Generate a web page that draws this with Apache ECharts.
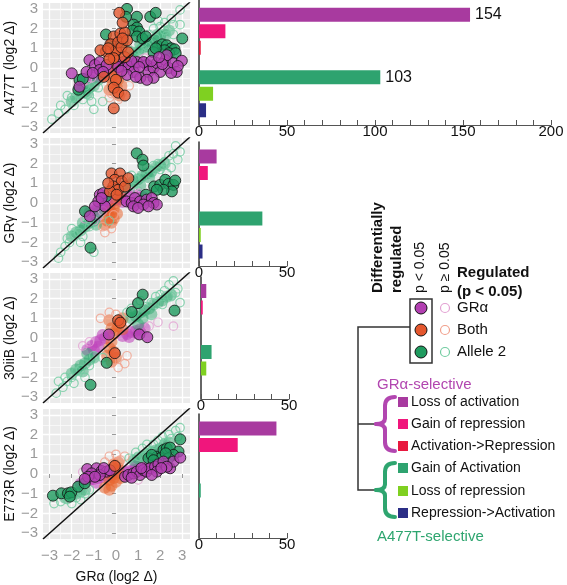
<!DOCTYPE html>
<html lang="en">
<head>
    <meta charset="UTF-8">
    <title>GR allele comparison</title>
    <script src="https://cdn.jsdelivr.net/npm/echarts@6/dist/echarts.min.js"></script>
    <style>
        html, body { margin: 0; padding: 0; background: #fff; }
        #main { width: 567px; height: 585px; }
    </style>
</head>
<body>
<div id="main"></div>
<script>
    // ---- scatter data, [GRα log2 change, allele log2 change] ----
    // A477T
    var a477tCloudGRa = [[-1.2,-0.4],[-1,-0.3],[-0.8,-0.25],[-0.6,-0.2],[-0.4,-0.1],[-0.2,-0.05],[0,0],[0.2,0.05],[0.4,0.1],[0.6,0.15],[0.8,0.2],[1,0.25],[1.2,0.3],[-0.9,-0.45],[-0.5,-0.35],[0.5,0.25],[0.9,0.1],[-1.4,-0.6],[-0.3,0.05],[0.3,0.2],[1.4,0.2],[-0.7,-0.4]];
    var a477tCloudBoth = [[0,-0.2],[-0.1,-0.4],[0.1,-0.6],[-0.15,-0.8],[0.05,-1],[-0.05,-1.2],[0.15,-1.4],[0.1,0.2],[0,0.4],[-0.1,0.6],[0.05,0.8],[0.2,-0.3],[-0.25,-0.5],[0.25,-0.9],[0.15,1],[-0.3,-1.1],[-0.2,0.3]];
    var a477tCloudAllele2 = [[-2,-1.7],[-1.8,-1.5],[-1.6,-1.3],[-1.4,-1.2],[-1.2,-1],[-1,-0.9],[-0.8,-0.6],[-1.5,-1],[-1.3,-1.3],[0.8,0.6],[1,0.8],[1.2,1],[1.4,1.1],[1.6,1.3],[1.8,1.4],[2,1.6],[2.2,1.7],[1.5,1.4],[1.9,1.7],[0.7,0.8],[2.4,1.9],[1.1,1.2]];
    var a477tOpenGRa = [[-1.5,-0.7],[-1.3,-0.6],[-1.6,-0.9],[-1.1,-0.5],[1.3,0.5],[1.1,0.4],[-1.7,-0.8],[0.9,0.35]];
    var a477tOpenBoth = [[-0.2,-1.3],[0.1,-1.6],[0.3,-1.2],[-0.3,-1.5],[0.5,1.1],[0,1.3],[-0.4,0.3],[0.6,-0.9]];
    var a477tOpenAllele2 = [[-2.9,-2.6],[-2.3,-2.1],[-2.6,-2.3],[-2,-1.5],[-1.9,-1.9],[-1.5,-1.6],[-1.2,-1.4],[-1,-2.1],[-2.2,-1.4],[-1.7,-1.3],[-0.6,-1.7],[-1.4,-0.9],[-2.5,-1.9],[-1.1,-1.7],[2.9,2.95],[2.5,2.5],[2.2,2.3],[2,2.1],[1.7,2],[1.5,1.7],[2.2,1.9],[2.6,2.2],[1.2,1.3],[1,0.9],[1.4,1.1],[2.3,1.65],[1.8,1.5],[2.6,1.7],[0.6,0.9],[2.9,2.2],[1.9,2.4],[-0.8,-1]];
    var a477tSigGRa = [[-2,-0.27],[-1.65,-0.95],[-1.2,0.4],[-0.95,0.15],[-0.73,0.3],[-0.73,-0.1],[-1.33,-0.2],[-0.42,0.15],[-0.58,-0.2],[0.33,0.3],[0.56,0.07],[0.8,-0.2],[0.95,0.3],[1.1,-0.5],[1.4,0.15],[1.47,-0.2],[1.7,0],[1.85,0.25],[2,-0.2],[2.23,0.4],[2.38,0],[2.6,0.25],[2.98,0.37],[2.75,-0.2],[1.7,-0.5],[1.4,-0.6],[0.5,-0.35],[1.25,0.3],[2.3,0.65],[0.1,0.05],[0.7,0.35],[1.05,0.05],[1.6,0.35],[2.1,0.2],[2.5,-0.25],[0.25,-0.15],[-1.05,-0.25],[1.95,0.55],[0.9,-0.45],[2.8,0.1]];
    var a477tSigBoth = [[0.15,2.8],[-0.1,1.6],[0.2,1.75],[0.4,1.8],[-0.25,1.2],[0,0.9],[0.1,1.3],[0.25,1.05],[-0.45,0.85],[-0.7,0.9],[0.5,1.4],[0.4,0.55],[-0.1,0.5],[0.55,0.8],[0,-0.6],[-0.1,-1],[0.1,-1.25],[0.4,-1.4],[-0.1,-2.05],[-0.55,-0.45],[0.3,2.3],[-0.3,0.45],[-0.35,1.0],[0.3,1.5]];
    var a477tSigAllele2 = [[0.5,3],[0.45,2.6],[0.95,2.6],[1.55,2.6],[1.8,2.8],[0.8,2.2],[0.95,2.05],[0.75,1.9],[1.05,1.85],[-0.45,1.7],[0.95,1.6],[1.2,1.5],[1.35,1.6],[1.9,1.1],[2.1,1.2],[2.3,1.15],[2.5,1],[2.65,0.95],[2.2,0.9],[2.4,0.75],[2.7,0.75],[3,1.5],[1.7,0.8],[1.8,1],[-1.7,-1.1],[-1.65,-0.6],[-1.5,-0.55],[0.3,1.3],[-0.2,1.2]];

    // GRγ
    var grgCloudGRa = [[-1.2,-0.5],[-1,-0.4],[-0.8,-0.2],[-0.6,-0.05],[-0.4,0.05],[-0.2,0.1],[0,0.15],[0.2,0.2],[0.4,0.25],[0.6,0.3],[0.8,0.35],[1,0.4],[-0.5,-0.3],[0.3,0.05],[0.7,0.1],[-0.9,-0.7],[1.2,0.3],[-0.3,-0.2]];
    var grgCloudBoth = [[-0.1,-0.3],[-0.2,-0.5],[-0.3,-0.7],[-0.4,-0.9],[-0.2,-1],[-0.5,-1.1],[0,0],[0.1,0.3],[0.2,0.5],[-0.1,-0.8],[-0.35,-0.4],[0.05,-0.55]];
    var grgCloudAllele2 = [[-2,-1.7],[-1.8,-1.5],[-1.6,-1.4],[-1.4,-1.2],[-1.2,-1],[-1,-0.9],[-0.9,-1.1],[-1.5,-1],[0.6,0.9],[0.8,1.1],[1,1.2],[1.2,1.4],[1.4,1.5],[1.6,1.6],[1.8,1.8],[2,1.9],[2.2,2],[0.4,0.8],[1.5,1.3],[1.1,0.9],[-0.8,-0.5]];
    var grgOpenGRa = [[-1.3,-0.6],[-1,-0.9],[-0.6,-0.4],[-1.4,-0.8],[1.1,0.5],[0.7,0.55]];
    var grgOpenBoth = [[-0.5,-1.5],[-0.2,-1.3],[-0.1,-0.6],[-0.6,-1.2],[0.2,0.9]];
    var grgOpenAllele2 = [[-2.6,-2.8],[-2.5,-2.5],[-2.3,-2.2],[-2.1,-2],[-1.9,-1.6],[-1.7,-1.5],[-2,-1.3],[-1.5,-1.7],[-1,-2.5],[-1.6,-2],[-1.2,-1.2],[2.7,2.9],[2.6,2.5],[2.8,2.2],[2.4,2.4],[2.2,2.1],[1.9,2],[2,1.7],[1.6,1.5],[1.4,1.8],[1.2,1.3],[0.9,1.2],[0.7,1.4],[2.9,2.6],[2.5,1.8],[1,0.6],[-0.3,-0.9],[-1.2,-0.9],[2.3,1.5],[1.7,1.9],[-2.2,-1.8]];
    var grgSigGRa = [[-0.73,0.42],[-0.58,0.5],[-0.8,0.08],[-0.5,-0.17],[-0.95,-0.17],[-1.18,-0.67],[0.48,0.08],[0.71,0],[0.86,0.25],[1.09,0.08],[1.39,0.17],[1.62,0.25],[1.7,0],[0.79,-0.17],[1.24,-0.08],[1.85,-0.08],[1,-0.25],[1.47,-0.17],[-0.65,0.25]];
    var grgSigBoth = [[-0.2,1.5],[0.18,1.5],[-0.05,1.18],[0.26,1.1],[-0.12,0.84],[0.1,0.67],[0.41,0.84],[-0.27,0.59],[0.56,1.26],[0.03,0.42],[-0.35,1]];
    var grgSigAllele2 = [[0.94,2.52],[1.2,2.2],[1.24,1.9],[-1.4,-0.42],[-1.15,-2.27],[1.73,0.84],[2,0.92],[2.23,1.18],[2.38,0.97],[2.6,0.92],[2.68,1.14],[2.53,0.59],[2.15,0.67],[1.85,0.67],[1.36,0.42],[-0.45,0.34]];

    // 30iiB
    var iibCloudGRa = [[-1.3,-0.6],[-1.1,-0.4],[-0.9,-0.2],[-0.7,-0.1],[-0.5,0],[-1,-0.6],[-0.8,-0.45],[0.3,0.1],[0.5,0.2],[0.7,0.3],[0.9,0.35],[1.1,0.45],[1.3,0.5],[0.6,0.05],[1,0.2],[-0.6,0.15]];
    var iibCloudBoth = [[-0.1,0.2],[0,0.4],[0.1,0.6],[0.2,0.8],[-0.2,0.5],[0.3,1],[-0.2,-0.2],[-0.3,-0.5],[-0.1,-0.7],[-0.4,-0.9],[0,-1],[-0.2,-1.2],[0.3,0.45],[-0.3,0.9]];
    var iibCloudAllele2 = [[-2,-1.8],[-1.8,-1.6],[-1.6,-1.4],[-1.4,-1.3],[-1.2,-1.1],[-1,-1],[-1.5,-1.7],[-1.3,-0.8],[0.9,1.1],[1.1,1.3],[1.3,1.4],[1.5,1.5],[1.7,1.7],[1.9,1.8],[2.1,1.9],[2.3,2.1],[1.2,1],[1.6,1.2],[2.5,2.2],[0.7,1],[1,0.7]];
    var iibOpenGRa = [[2.6,0.6],[1.9,0.8],[1.5,0.6],[-1.5,-0.4],[-1.2,-0.2]];
    var iibOpenBoth = [[-0.3,1.3],[0,1.2],[-0.7,1],[0.4,-1.3],[0.1,-1.5],[-0.2,-1.2],[0.5,-0.9]];
    var iibOpenAllele2 = [[-2.7,-2.8],[-2.4,-2.5],[-2.2,-2.2],[-2,-2],[-1.8,-1.7],[-2.3,-2],[-1.6,-1.6],[-1.4,-2],[-1.9,-2.3],[-2.6,-2.2],[2.6,2.9],[2.4,2.7],[2.8,2.5],[2.2,2.4],[2,2.2],[1.8,2.1],[2.5,2.1],[2.9,1.8],[1.6,1.8],[1.4,1.6],[2.1,1.7],[0.5,1.3],[0.7,1.5],[-0.6,-1],[-1,-0.9],[2.7,2.3],[1.1,1.9],[-1.2,-1.4]];
    var iibSigGRa = [[-0.32,0.18],[1.06,0.18],[1.42,0.04]];
    var iibSigBoth = [[0.1,0.9],[0.2,0.78],[-0.05,-0.77]];
    var iibSigAllele2 = [[1.21,2.2],[1,1.77],[0.71,1.32],[2.65,1.39],[-0.42,-1.26],[-1.15,-2.38]];

    // E773R
    var e773rCloudGRa = [[-1.4,-0.35],[-1.2,-0.3],[-1,-0.25],[-0.8,-0.2],[-0.6,-0.15],[-0.4,-0.1],[-0.2,-0.05],[0.2,0.05],[0.4,0.1],[0.6,0.15],[0.8,0.2],[1,0.25],[1.2,0.3],[1.4,0.35],[1.6,0.4],[1.8,0.5],[-1.6,-0.5],[0.9,0.4],[1.3,0.1],[-0.9,-0.45]];
    var e773rCloudBoth = [[0,0],[-0.1,-0.2],[0,-0.4],[-0.2,-0.6],[-0.3,-0.8],[0.1,0.3],[-0.1,0.5],[0.1,0.6],[-0.3,-0.3],[0.2,-0.2],[-0.5,-0.7]];
    var e773rCloudAllele2 = [[-2.3,-1.2],[-2,-1.1],[-1.8,-1],[-1.6,-0.9],[-1.4,-0.8],[1.6,1.1],[1.8,1.2],[2,1.3],[1.4,1],[2.2,1.5],[1.2,0.9],[0.8,0.7],[1,0.8],[2.4,1.6]];
    var e773rOpenGRa = [[-1.5,0.1],[1,-0.3],[2,0.3]];
    var e773rOpenBoth = [[-0.3,0.9],[0,1],[0.2,0.7],[-0.5,0.6],[0.4,0.9]];
    var e773rOpenAllele2 = [[-2.8,-1.5],[-2.5,-1.4],[-2.2,-1.3],[-2,-1.5],[-1.8,-1.2],[-1.6,-1.3],[-1.9,-0.9],[-1.4,-1],[-1.2,-0.8],[2.9,2.35],[2.7,2.2],[2.4,2],[2.1,1.9],[1.9,1.7],[1.7,1.5],[1.4,1.5],[1.2,1.3],[0.9,1.1],[1.5,1.2],[2.2,1.6],[2.5,1.8],[1,0.9],[0.6,0.8],[2.8,1.9]];
    var e773rSigGRa = [[-1.3,0.25],[-0.88,0.29],[-0.65,0.15],[-0.42,0.12],[-1.1,0.03],[-0.73,-0.05],[-1.26,-0.14],[-0.95,-0.14],[-1.41,-0.25],[-0.27,0.19],[0.41,-0.14],[0.56,-0.05],[0.79,0.03],[0.94,0.12],[1.09,-0.05],[1.24,0.2],[1.39,0.12],[1.55,0.29],[1.77,0.37],[1.92,0.49],[2.15,0.63],[2.45,0.29],[2.6,0.63],[2.91,0.83],[1.85,0.12],[0.71,-0.19],[1.62,-0.05],[2.3,0.37],[2.05,0.3],[1.15,0.3],[-0.55,0.3]];
    var e773rSigBoth = [[-0.05,0.41]];
    var e773rSigAllele2 = [[-2.85,-1.1],[-2.47,-0.98],[-2.17,-0.98],[-2.02,-0.93],[-1.71,-0.64],[-1.41,-0.47],[-2.09,-1.15],[1.47,0.8],[1.85,0.88],[2.15,1.22],[2.3,1.3],[2.45,1.34],[2.91,1.76],[2.83,1.14],[2.6,0.97],[2,0.8],[1.62,0.97],[1.7,0.7],[2.38,0.8],[2.25,1.05]];

    // ---- bar counts ----
    var barCategories = ['Loss of activation', 'Gain of repression', 'Activation->Repression',
        'Gain of Activation', 'Loss of repression', 'Repression->Activation'];
    var a477tCounts = [154, 15, 1, 103, 8, 4];
    var grgCounts = [10, 5, 0, 36, 1, 2];
    var iibCounts = [3, 1, 0, 6, 3, 0];
    var e773rCounts = [44, 22, 0, 1, 0, 0];

    var axisTicks = [-3, -2, -1, 0, 1, 2, 3];
    var groupNames = ['GRα', 'Both', 'Allele 2'];

    var barColors = ['#a83a9f', '#f0167c', '#e8193f', '#2ea36f', '#7fd021', '#2b2e86'];
    var sigColors = ['#b23fb1', '#e4572e', '#1f9b5f'];
    var openColors = ['#e3a2d3', '#f1a08c', '#72cca1'];
    var cloudColors = ['rgba(190,68,188,0.7)', 'rgba(232,98,42,0.65)', 'rgba(48,170,112,0.6)'];

    var panels = [
        {label: 'A477T (log2 Δ)', cloud: [a477tCloudGRa, a477tCloudBoth, a477tCloudAllele2],
            open: [a477tOpenGRa, a477tOpenBoth, a477tOpenAllele2], sig: [a477tSigGRa, a477tSigBoth, a477tSigAllele2],
            counts: a477tCounts, top: 3, barTop: 0, barH: 125, barLeft: 199, barMax: 200},
        {label: 'GRγ (log2 Δ)', cloud: [grgCloudGRa, grgCloudBoth, grgCloudAllele2],
            open: [grgOpenGRa, grgOpenBoth, grgOpenAllele2], sig: [grgSigGRa, grgSigBoth, grgSigAllele2],
            counts: grgCounts, top: 138, barTop: 142, barH: 124, barLeft: 199, barMax: 50},
        {label: '30iiB (log2 Δ)', cloud: [iibCloudGRa, iibCloudBoth, iibCloudAllele2],
            open: [iibOpenGRa, iibOpenBoth, iibOpenAllele2], sig: [iibSigGRa, iibSigBoth, iibSigAllele2],
            counts: iibCounts, top: 273, barTop: 277, barH: 122, barLeft: 201, barMax: 50},
        {label: 'E773R (log2 Δ)', cloud: [e773rCloudGRa, e773rCloudBoth, e773rCloudAllele2],
            open: [e773rOpenGRa, e773rOpenBoth, e773rOpenAllele2], sig: [e773rSigGRa, e773rSigBoth, e773rSigAllele2],
            counts: e773rCounts, top: 409, barTop: 414, barH: 124, barLeft: 199, barMax: 50}
    ];

    var font = 'Liberation Sans, Arial, sans-serif';
    function minus(v) { return String(v).replace('-', '\u2212'); }

    var grid = [], xAxis = [], yAxis = [], series = [];

    panels.forEach(function (p, i) {
        var last = i === panels.length - 1;
        // scatter panel
        grid.push({left: 43, top: p.top, width: 147, height: 130, show: true,
            backgroundColor: '#ebebeb', borderWidth: 0});
        xAxis.push({
            gridIndex: 2 * i, type: 'value', min: -3.3, max: 3.35, splitNumber: 6,
            axisLine: {show: false},
            axisTick: {show: last, length: 4, lineStyle: {color: '#999'}, customValues: axisTicks},
            axisLabel: {show: last, customValues: axisTicks, color: '#9a9a9a', fontSize: 15, margin: 9,
                fontFamily: font, formatter: minus},
            splitLine: {show: true, lineStyle: {color: '#fff', width: 1.3}},
            minorTick: {show: false, splitNumber: 2},
            minorSplitLine: {show: true, lineStyle: {color: '#fafafa', width: 0.8}},
            name: last ? 'GRα (log2 Δ)' : '', nameLocation: 'middle', nameGap: 31,
            nameTextStyle: {color: '#111', fontSize: 14, fontFamily: font}
        });
        yAxis.push({
            gridIndex: 2 * i, type: 'value', min: -3.3, max: 3.3, splitNumber: 6,
            axisLine: {show: false},
            axisTick: {show: true, length: 4, lineStyle: {color: '#999'}, customValues: axisTicks},
            axisLabel: {customValues: axisTicks, color: '#9a9a9a', fontSize: 15, margin: 5,
                fontFamily: font, formatter: minus},
            splitLine: {show: true, lineStyle: {color: '#fff', width: 1.3}},
            minorTick: {show: false, splitNumber: 2},
            minorSplitLine: {show: true, lineStyle: {color: '#fafafa', width: 0.8}},
            name: p.label, nameLocation: 'middle', nameGap: 21,
            nameTextStyle: {color: '#111', fontSize: 14, fontFamily: font}
        });
        [0, 1, 2].forEach(function (k) {
            series.push({type: 'scatter', xAxisIndex: 2 * i, yAxisIndex: 2 * i, name: groupNames[k] + ' cloud',
                data: p.cloud[k], symbolSize: 12, silent: true, z: 1,
                itemStyle: {color: cloudColors[k]}});
        });
        [0, 1, 2].forEach(function (k) {
            series.push({type: 'scatter', xAxisIndex: 2 * i, yAxisIndex: 2 * i, name: groupNames[k] + ' p ≥ 0.05',
                data: p.open[k], symbolSize: 8.5, silent: true, z: 2,
                itemStyle: {color: 'rgba(255,255,255,0)', borderColor: openColors[k], borderWidth: 1.2}});
        });
        [2, 0, 1].forEach(function (k) {
            series.push({type: 'scatter', xAxisIndex: 2 * i, yAxisIndex: 2 * i, name: groupNames[k] + ' p < 0.05',
                data: p.sig[k], symbolSize: 11, silent: true, z: 3,
                itemStyle: {color: sigColors[k], borderColor: '#111', borderWidth: 1}});
        });
        series.push({type: 'line', xAxisIndex: 2 * i, yAxisIndex: 2 * i, data: [[-3.3, -3.3], [3.35, 3.35]],
            symbol: 'none', silent: true, z: 4, lineStyle: {color: '#111', width: 1.5}});

        // bar panel
        var barW = p.barMax * 352 / 200;
        grid.push({left: p.barLeft, top: p.barTop, width: barW, height: p.barH});
        xAxis.push({
            gridIndex: 2 * i + 1, type: 'value', min: 0, max: p.barMax, interval: 50,
            axisLine: {show: true, lineStyle: {color: '#555', width: 1.2}},
            axisTick: {show: true, inside: true, length: 5, lineStyle: {color: '#555'}},
            minorTick: {show: true, splitNumber: 5, length: 5, lineStyle: {color: '#555'}},
            axisLabel: {color: '#111', fontSize: 15, margin: -1, fontFamily: font},
            splitLine: {show: false}
        });
        yAxis.push({
            gridIndex: 2 * i + 1, type: 'category', inverse: true,
            data: ['GRα-selective', 'A477T-selective'],
            axisLine: {show: true, lineStyle: {color: '#333', width: 1.5}},
            axisTick: {show: false}, axisLabel: {show: false}
        });
        [0, 1, 2].forEach(function (k) {
            series.push({
                type: 'bar', xAxisIndex: 2 * i + 1, yAxisIndex: 2 * i + 1, barWidth: 14, barGap: '18%',
                silent: true,
                data: [k, k + 3].map(function (c) {
                    return {name: barCategories[c], value: p.counts[c], itemStyle: {color: barColors[c]},
                        label: {show: p.counts[c] >= 100}};
                }),
                label: {position: 'right', distance: 5, color: '#111', fontSize: 16, fontFamily: font}
            });
        });
    });

    // ---- legend panel (drawn) ----
    var tree = '#333';
    function brace(xr, top, mid, bottom, color) {
        var xs = xr - 10, xt = xr - 19;
        var st = {stroke: color, lineWidth: 4, fill: null, lineCap: 'round'};
        return [
            {type: 'bezierCurve', shape: {x1: xr, y1: top, cpx1: xs, cpy1: top, x2: xs, y2: top + 9}, style: st},
            {type: 'line', shape: {x1: xs, y1: top + 9, x2: xs, y2: mid - 6}, style: st},
            {type: 'bezierCurve', shape: {x1: xs, y1: mid - 6, cpx1: xs, cpy1: mid, x2: xt, y2: mid}, style: st},
            {type: 'bezierCurve', shape: {x1: xt, y1: mid, cpx1: xs, cpy1: mid, x2: xs, y2: mid + 6}, style: st},
            {type: 'line', shape: {x1: xs, y1: mid + 6, x2: xs, y2: bottom - 9}, style: st},
            {type: 'bezierCurve', shape: {x1: xs, y1: bottom - 9, cpx1: xs, cpy1: bottom, x2: xr, y2: bottom}, style: st}
        ];
    }
    var graphic = [
        {type: 'polyline', shape: {points: [[410, 327], [358, 327], [358, 490], [376, 490]]},
            style: {stroke: tree, lineWidth: 1.5, fill: null}},
        {type: 'line', shape: {x1: 358, y1: 424, x2: 376, y2: 424}, style: {stroke: tree, lineWidth: 1.5}},
        {type: 'rect', shape: {x: 410, y: 299, width: 22, height: 64}, style: {stroke: tree, lineWidth: 1.5, fill: null}}
    ];
    graphic = graphic.concat(brace(395, 397, 424, 451, '#b246b0'), brace(395, 463, 490, 517, '#2ea56f'));
    function txt(x, y, s, size, opt) {
        opt = opt || {};
        return {type: 'text', x: x, y: y, rotation: opt.rot || 0,
            style: {text: s, fill: opt.color || '#111', fontSize: size, fontWeight: opt.bold ? 'bold' : 'normal',
                fontFamily: font, align: 'left', verticalAlign: 'middle'}};
    }
    graphic.push(txt(378, 293, 'Differentially', 15, {rot: Math.PI / 2, bold: true}));
    graphic.push(txt(397, 293, 'regulated', 15, {rot: Math.PI / 2, bold: true}));
    graphic.push(txt(420, 293, 'p < 0.05', 14, {rot: Math.PI / 2}));
    graphic.push(txt(445, 293, 'p \u2265 0.05', 14, {rot: Math.PI / 2}));
    graphic.push(txt(457, 273, 'Regulated', 15, {bold: true}));
    graphic.push(txt(457, 292, '(p < 0.05)', 15, {bold: true}));
    [308, 330, 352].forEach(function (y, k) {
        graphic.push({type: 'circle', shape: {cx: 421, cy: y, r: 6}, style: {fill: sigColors[k], stroke: '#111', lineWidth: 1}});
        graphic.push({type: 'circle', shape: {cx: 445, cy: y, r: 4.5}, style: {fill: null, stroke: openColors[k], lineWidth: 1.2}});
        graphic.push(txt(457, y, groupNames[k], 15));
    });
    graphic.push(txt(377, 385, 'GR\u03b1-selective', 15, {color: '#b246b0'}));
    graphic.push(txt(377, 537, 'A477T-selective', 15, {color: '#2ea56f'}));
    [402, 424, 446, 468, 491, 513].forEach(function (y, c) {
        graphic.push({type: 'rect', shape: {x: 398, y: y - 5, width: 10, height: 10}, style: {fill: barColors[c]}});
        graphic.push(txt(411, y, barCategories[c], 14));
    });

    var myChart = echarts.init(document.getElementById('main'));
    myChart.setOption({
        animation: false,
        textStyle: {fontFamily: font},
        grid: grid,
        xAxis: xAxis,
        yAxis: yAxis,
        series: series,
        graphic: graphic
    });
</script>
</body>
</html>
